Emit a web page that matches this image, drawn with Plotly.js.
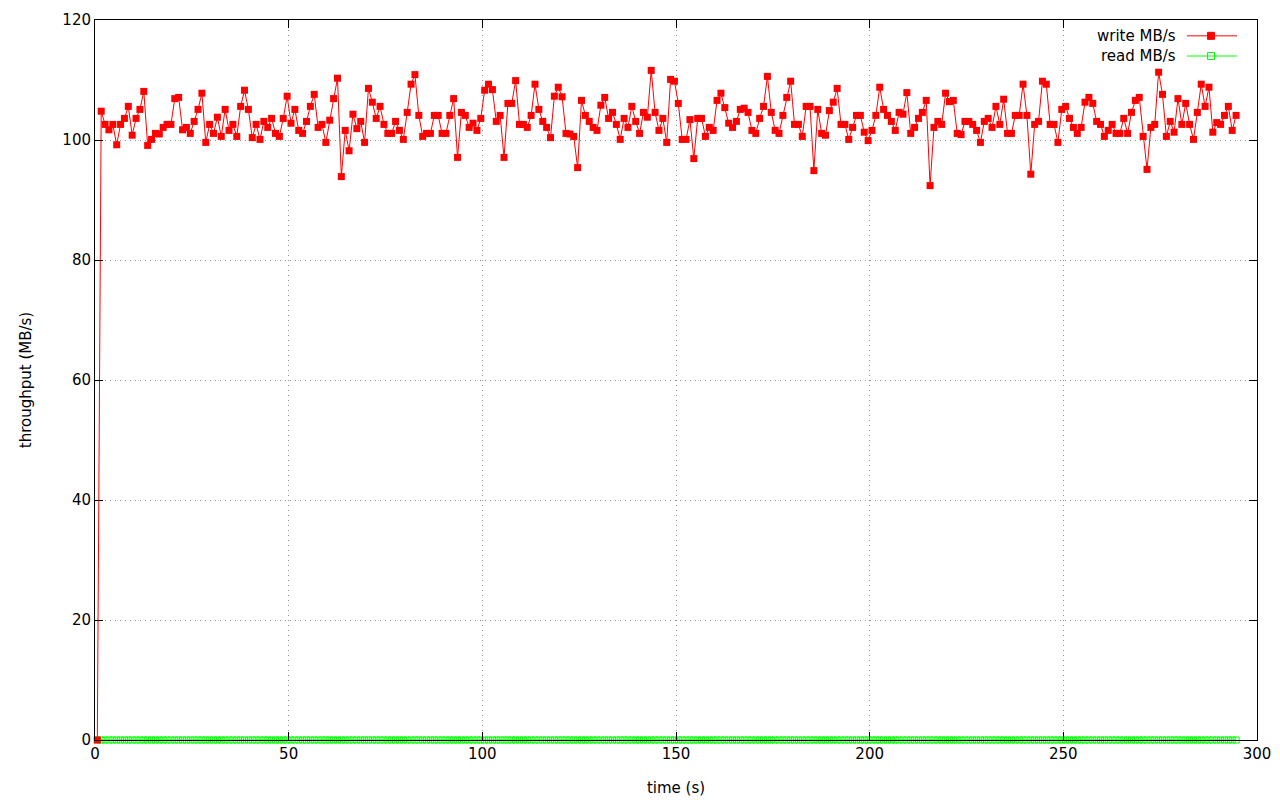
<!DOCTYPE html>
<html>
<head>
<meta charset="utf-8">
<script src="https://cdn.plot.ly/plotly-3.0.1.min.js"></script>
<style>html,body{margin:0;padding:0;background:#fff;}#chart{width:1280px;height:800px;}</style>
</head>
<body>
<div id="chart"></div>
<script>
// write throughput per second (MB/s)
const writeMBs = [
  0,
  104.8,102.6,101.7,102.6,99.2,102.6,103.6,105.6,100.8,103.6,
  105.1,108.1,99.1,100.1,101.1,101.0,102.1,102.6,102.6,106.9,
  107.1,101.7,102.1,101.1,103.1,105.1,107.8,99.6,102.6,101.1,
  103.8,100.6,105.1,101.6,102.6,100.6,105.6,108.3,105.1,100.4,
  102.6,100.1,103.1,102.1,103.6,101.1,100.6,103.6,107.3,102.8,
  105.1,101.6,101.1,103.1,105.6,107.6,102.1,102.6,99.6,103.3,
  106.9,110.3,93.9,101.6,98.2,104.3,101.9,103.1,99.6,108.6,
  106.3,103.6,105.6,102.6,101.1,101.1,103.1,101.6,100.1,104.6,
  109.3,110.9,104.1,100.6,101.1,101.1,104.1,104.1,101.1,101.1,
  104.1,106.9,97.1,104.6,104.1,102.1,102.8,101.6,103.6,108.3,
  109.3,108.4,103.1,104.1,97.1,106.1,106.1,109.9,102.6,102.6,
  102.1,104.1,109.3,105.1,103.1,102.1,100.4,107.3,108.8,107.2,
  101.1,101.0,100.6,95.4,106.6,104.1,103.1,102.1,101.6,105.8,
  107.1,103.6,104.6,102.6,100.1,103.6,102.1,105.6,103.1,101.1,
  104.6,103.8,111.6,104.6,101.6,103.6,99.6,110.1,109.8,106.1,
  100.1,100.1,103.4,96.9,103.6,103.6,100.6,102.1,101.6,106.6,
  107.8,105.4,102.8,102.1,103.1,105.1,105.3,104.6,101.6,101.1,
  103.6,105.6,110.6,104.6,101.6,101.1,104.1,107.1,109.8,102.6,
  102.6,100.6,105.6,105.6,94.9,105.1,101.1,100.8,104.9,106.3,
  108.6,102.6,102.6,100.1,102.1,104.1,104.1,101.3,99.9,101.6,
  104.1,108.8,105.1,104.1,103.1,101.6,104.6,104.3,107.9,101.1,
  102.1,103.6,104.6,106.6,92.4,102.1,103.1,102.6,107.8,106.4,
  106.6,101.1,100.9,103.1,103.1,102.6,101.6,99.6,103.1,103.6,
  102.1,105.6,102.6,106.8,101.1,101.1,104.1,104.1,109.3,104.1,
  94.3,102.6,103.1,109.8,109.3,102.6,102.6,99.6,105.1,105.6,
  103.6,102.1,101.1,102.1,106.3,107.1,106.1,103.1,102.6,100.6,
  101.6,102.6,101.1,101.1,103.6,101.1,104.6,106.6,107.1,100.6,
  95.1,102.1,102.6,111.3,107.6,100.6,103.1,101.3,106.9,102.6,
  106.1,102.6,100.1,104.6,109.3,105.6,108.8,101.3,102.9,102.6,
  104.1,105.6,101.6,104.1
];
// read throughput (MB/s): zero for the whole run
const readMBs = writeMBs.map(() => 0);
// sample times (s): one sample per second, first sample slightly after 0
const timeS = writeMBs.map((_, i) => i + 0.6);

const xTicks = [0, 50, 100, 150, 200, 250, 300];
const yTicks = [0, 20, 40, 60, 80, 100, 120];
const seriesNames = ['write MB/s', 'read MB/s'];
const seriesColors = ['#ff0000', '#00ff00'];

const FONT = 'DejaVu Sans, sans-serif';

const traces = [
  {
    x: timeS, y: readMBs, type: 'scatter', mode: 'lines+markers',
    name: seriesNames[1], showlegend: false, cliponaxis: false,
    line: {color: seriesColors[1], width: 1},
    marker: {symbol: 'square-open', size: 6, color: seriesColors[1], line: {width: 1, color: seriesColors[1]}}
  },
  {
    x: timeS, y: writeMBs, type: 'scatter', mode: 'lines+markers',
    name: seriesNames[0], showlegend: false, cliponaxis: false,
    line: {color: seriesColors[0], width: 1},
    marker: {symbol: 'square', size: 7, color: seriesColors[0], line: {width: 0}}
  }
];

// gnuplot-like key: text on the left, sample on the right
const keyTextX = 0.932, keyLineX0 = 0.9398, keyLineX1 = 0.9828, keyMarkX = 0.9604;
const keyY = [0.978, 0.950];
const annotations = seriesNames.map((n, k) => ({
  xref: 'paper', yref: 'paper', x: keyTextX, y: keyY[k], xanchor: 'right', yanchor: 'middle',
  text: n, showarrow: false, font: {family: FONT, size: 15, color: '#000'}
}));
const shapes = [];
seriesNames.forEach((n, k) => {
  shapes.push({type: 'line', xref: 'paper', yref: 'paper', x0: keyLineX0, x1: keyLineX1, y0: keyY[k], y1: keyY[k],
    line: {color: seriesColors[k], width: 1}});
  shapes.push({type: 'rect', xref: 'paper', yref: 'paper', xsizemode: 'pixel', ysizemode: 'pixel',
    xanchor: keyMarkX, yanchor: keyY[k], x0: -3.5, x1: 3.5, y0: -3.5, y1: 3.5,
    fillcolor: k === 0 ? seriesColors[k] : 'rgba(0,0,0,0)', line: {color: seriesColors[k], width: 1}});
});

const axisCommon = {
  showline: true, linecolor: '#000', linewidth: 1, mirror: 'ticks',
  ticks: 'inside', ticklen: 8, tickcolor: '#000', tickwidth: 1,
  showgrid: true, gridcolor: '#909090', griddash: '1px,4px', gridwidth: 1,
  zeroline: false, tickfont: {family: FONT, size: 15, color: '#000'}
};

const layout = {
  width: 1280, height: 800,
  margin: {l: 95, r: 23, t: 20, b: 60},
  paper_bgcolor: '#fff', plot_bgcolor: '#fff',
  font: {family: FONT, size: 15, color: '#000'},
  xaxis: Object.assign({}, axisCommon, {
    range: [0, 300], tickvals: xTicks, ticktext: xTicks.map(String),
    title: {text: 'time (s)', font: {family: FONT, size: 15, color: '#000'}, standoff: 20}
  }),
  yaxis: Object.assign({}, axisCommon, {
    range: [0, 120], tickvals: yTicks, ticktext: yTicks.map(String),
    title: {text: 'throughput (MB/s)', font: {family: FONT, size: 15, color: '#000'}, standoff: 27}
  }),
  showlegend: false,
  annotations: annotations,
  shapes: shapes
};

Plotly.newPlot('chart', traces, layout, {displayModeBar: false, staticPlot: true});
</script>
</body>
</html>
